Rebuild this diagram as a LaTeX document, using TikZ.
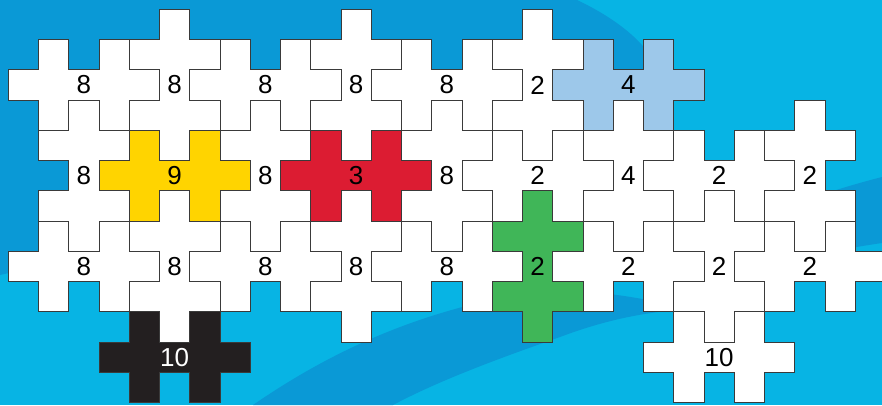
\documentclass[tikz,border=0pt]{standalone}
\usepackage{fontspec}
\setmainfont{Liberation Sans}
\definecolor{bgdark}{HTML}{0A99D6}
\definecolor{bglight}{HTML}{07B4E4}
\definecolor{pyellow}{HTML}{FFD400}
\definecolor{pred}{HTML}{DC1C32}
\definecolor{pblue}{HTML}{9DC8EA}
\definecolor{pgreen}{HTML}{40B658}
\definecolor{pblack}{HTML}{231F20}
\definecolor{edgecol}{HTML}{3A3A3A}
\tikzset{
  piece/.style={draw=edgecol, line width=1.1pt, line join=miter},
  lbl/.style={inner sep=0pt, font=\fontsize{26}{26}\selectfont},
}
% horizontal double cross: #1 name, #2 col, #3 row, #4 fill, #5 text colour, #6 label
\newcommand{\crossH}[6]{%
  \begin{scope}[shift={(#2+0.5,#3+0.5)}]
    \draw[piece, fill=#4] (-2.5,-0.5) -- (-1.5,-0.5) -- (-1.5,-1.5) -- (-0.5,-1.5) -- (-0.5,-0.5)
      -- (0.5,-0.5) -- (0.5,-1.5) -- (1.5,-1.5) -- (1.5,-0.5) -- (2.5,-0.5) -- (2.5,0.5)
      -- (1.5,0.5) -- (1.5,1.5) -- (0.5,1.5) -- (0.5,0.5) -- (-0.5,0.5) -- (-0.5,1.5)
      -- (-1.5,1.5) -- (-1.5,0.5) -- (-2.5,0.5) -- cycle;
    \node[lbl, text=#5] (#1) at (0,0) {#6};
  \end{scope}}
% vertical double cross
\newcommand{\crossV}[6]{%
  \begin{scope}[shift={(#2+0.5,#3+0.5)}]
    \draw[piece, fill=#4] (-0.5,-2.5) -- (-0.5,-1.5) -- (-1.5,-1.5) -- (-1.5,-0.5) -- (-0.5,-0.5)
      -- (-0.5,0.5) -- (-1.5,0.5) -- (-1.5,1.5) -- (-0.5,1.5) -- (-0.5,2.5) -- (0.5,2.5)
      -- (0.5,1.5) -- (1.5,1.5) -- (1.5,0.5) -- (0.5,0.5) -- (0.5,-0.5) -- (1.5,-0.5)
      -- (1.5,-1.5) -- (0.5,-1.5) -- (0.5,-2.5) -- cycle;
    \node[lbl, text=#5] (#1) at (0,0) {#6};
  \end{scope}}
\begin{document}
\begin{tikzpicture}[x=1pt, y=-1pt]
  \useasboundingbox (0,0) rectangle (882,405);
  \clip (0,0) rectangle (882,405);
  % background
  \fill[bglight] (0,0) rectangle (882,405);
  \fill[bgdark] (0,0) -- (577,0) .. controls (630,25) and (665,60) .. (660,90)
    .. controls (640,200) and (150,240) .. (0,275) -- cycle;
  \fill[bgdark] (253,405) .. controls (340,345) and (420,315) .. (500,298)
    .. controls (580,283) and (640,298) .. (690,309)
    .. controls (640,312) and (600,322) .. (560,337)
    .. controls (500,358) and (440,380) .. (393,405) -- cycle;
  \fill[bgdark] (882,177) .. controls (800,198) and (740,225) .. (700,250)
    -- (700,280) .. controls (760,266) and (820,252) .. (882,243) -- cycle;
  % pieces
  \begin{scope}[shift={(8.3,9.3)}, x=30.25pt, y=-30.25pt]
    % row r=2
    \crossH{p2-2}{2}{2}{white}{black}{8}
    \crossV{p5-2}{5}{2}{white}{black}{8}
    \crossH{p8-2}{8}{2}{white}{black}{8}
    \crossV{p11-2}{11}{2}{white}{black}{8}
    \crossH{p14-2}{14}{2}{white}{black}{8}
    \crossV{p17-2}{17}{2}{white}{black}{2}
    \crossH{p20-2}{20}{2}{pblue}{black}{4}
    % row r=5
    \crossV{p2-5}{2}{5}{white}{black}{8}
    \crossH{p5-5}{5}{5}{pyellow}{black}{9}
    \crossV{p8-5}{8}{5}{white}{black}{8}
    \crossH{p11-5}{11}{5}{pred}{black}{3}
    \crossV{p14-5}{14}{5}{white}{black}{8}
    \crossH{p17-5}{17}{5}{white}{black}{2}
    \crossV{p20-5}{20}{5}{white}{black}{4}
    \crossH{p23-5}{23}{5}{white}{black}{2}
    \crossV{p26-5}{26}{5}{white}{black}{2}
    % row r=8
    \crossH{p2-8}{2}{8}{white}{black}{8}
    \crossV{p5-8}{5}{8}{white}{black}{8}
    \crossH{p8-8}{8}{8}{white}{black}{8}
    \crossV{p11-8}{11}{8}{white}{black}{8}
    \crossH{p14-8}{14}{8}{white}{black}{8}
    \crossV{p17-8}{17}{8}{pgreen}{black}{2}
    \crossH{p20-8}{20}{8}{white}{black}{2}
    \crossV{p23-8}{23}{8}{white}{black}{2}
    \crossH{p26-8}{26}{8}{white}{black}{2}
    % row r=11
    \crossH{p5-11}{5}{11}{pblack}{white}{10}
    \crossH{p23-11}{23}{11}{white}{black}{10}
  \end{scope}
\end{tikzpicture}
\end{document}
